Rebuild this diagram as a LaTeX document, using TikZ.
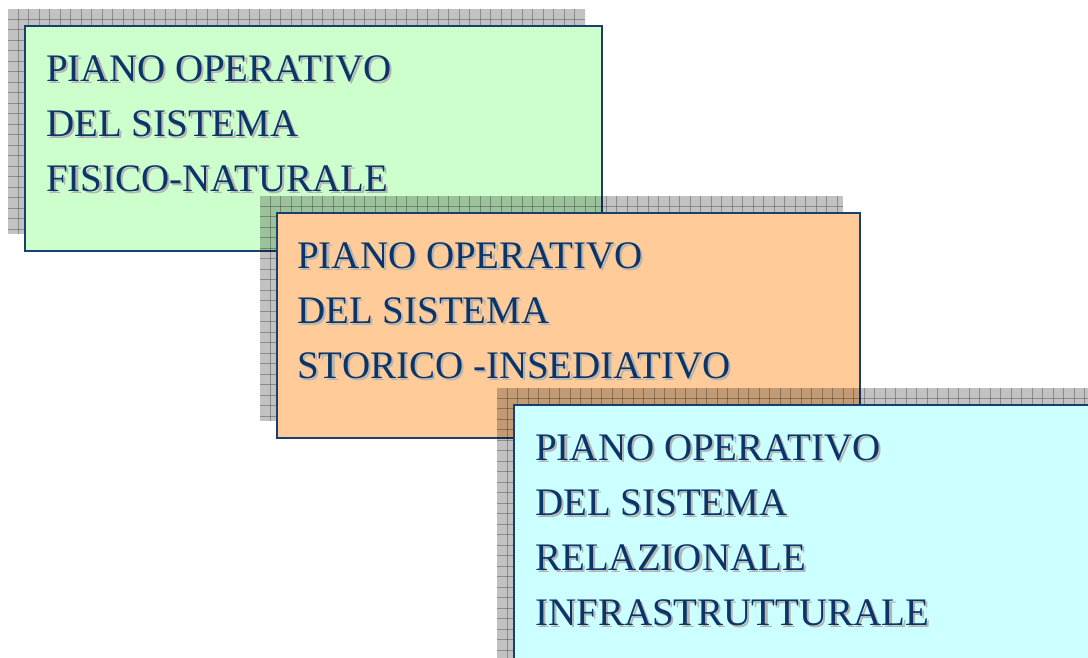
\documentclass[tikz,border=0pt]{standalone}
\usepackage{fontspec}
\setmainfont{Liberation Serif}
\definecolor{navy}{HTML}{0B3568}
\definecolor{edge}{HTML}{1A3F6C}
\definecolor{tshadow}{HTML}{B4B4B4}
\definecolor{fgreen}{HTML}{CCFFCC}
\definecolor{forange}{HTML}{FFCC99}
\definecolor{fcyan}{HTML}{CCFFFF}
\newcommand\stx[1]{\makebox[0pt][l]{\hspace{2.2pt}\raisebox{-2.2pt}{\textcolor{tshadow}{#1}}}\textcolor{navy}{#1}}
\newcommand\gridshadow[4]{%
  \begin{scope}
    \clip (#1,#2) rectangle (#3,#4);
    \fill[black,opacity=0.24] (#1,#2) rectangle (#3,#4);
    \foreach \gx in {0,10.5,...,640} {\draw[black,opacity=0.28,line width=0.8pt] (#1+\gx+10,#2) -- (#1+\gx+10,#4);}
    \foreach \gy in {0,10.5,...,300} {\draw[black,opacity=0.28,line width=0.8pt] (#1,#2+\gy+10) -- (#3,#2+\gy+10);}
  \end{scope}}
\begin{document}
\begin{tikzpicture}[x=1pt,y=-1pt,
  panel/.style={draw=edge,line width=1.8pt,rectangle,inner sep=0pt,anchor=north west},
  txt/.style={anchor=base west,inner sep=0pt,font=\fontsize{39}{55}\selectfont}]
\useasboundingbox (0,0) rectangle (1088,657);
\clip (0,0) rectangle (1088,657);
% box 1
\gridshadow{8}{9}{585}{234}
\node[panel,fill=fgreen,minimum width=577pt,minimum height=225pt] (b1) at (24,25) {};
\node[txt] (t11) at (46,81) {\stx{PIANO OPERATIVO}};
\node[txt] (t12) at (46,136) {\stx{DEL SISTEMA}};
\node[txt] (t13) at (46,191) {\stx{FISICO-NATURALE}};
% box 2
\gridshadow{260}{196}{843}{421}
\node[panel,fill=forange,minimum width=583pt,minimum height=225pt] (b2) at (276,212) {};
\node[txt] (t21) at (297,268) {\stx{PIANO OPERATIVO}};
\node[txt] (t22) at (297,323) {\stx{DEL SISTEMA}};
\node[txt] (t23) at (297,378) {\stx{STORICO -INSEDIATIVO}};
% box 3
\gridshadow{497}{388}{1100}{680}
\node[panel,fill=fcyan,minimum width=600pt,minimum height=300pt] (b3) at (513,404) {};
\node[txt] (t31) at (535,460) {\stx{PIANO OPERATIVO}};
\node[txt] (t32) at (535,515) {\stx{DEL SISTEMA}};
\node[txt] (t33) at (535,570) {\stx{RELAZIONALE}};
\node[txt] (t34) at (535,625) {\stx{INFRASTRUTTURALE}};
\end{tikzpicture}
\end{document}
